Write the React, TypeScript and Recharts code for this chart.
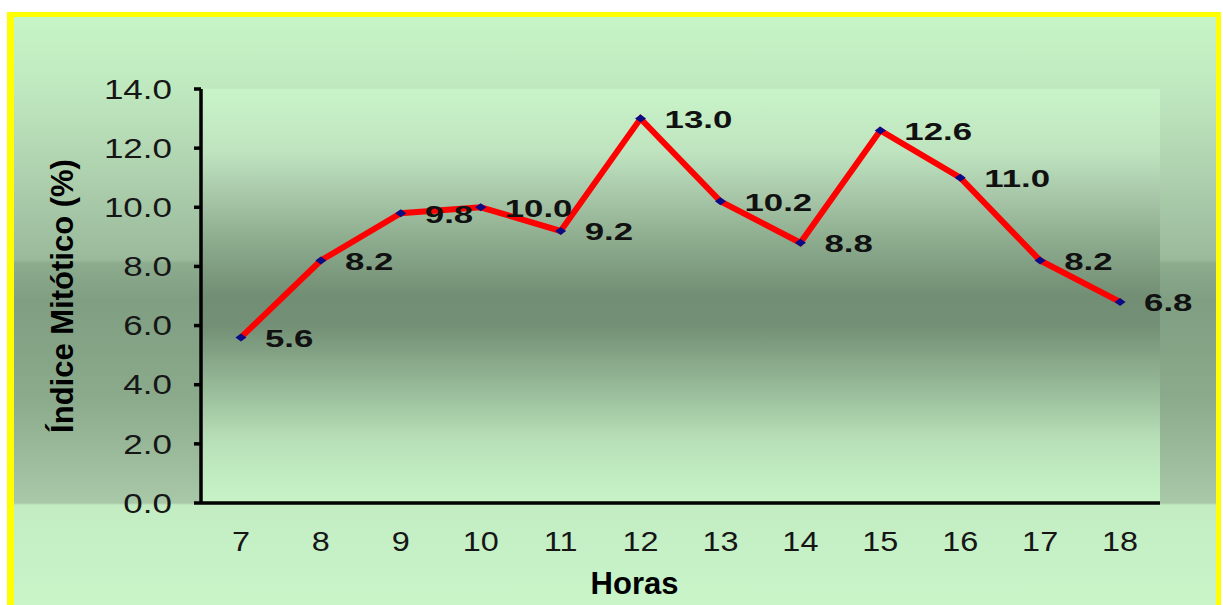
import { LineChart, Line, XAxis, YAxis, CartesianGrid, LabelList, Label } from "recharts";

const HOURS = [7, 8, 9, 10, 11, 12, 13, 14, 15, 16, 17, 18];
const MITOTIC_INDEX = [5.6, 8.2, 9.8, 10.0, 9.2, 13.0, 10.2, 8.8, 12.6, 11.0, 8.2, 6.8];
const Y_TICKS = [0, 2, 4, 6, 8, 10, 12, 14];

// tick marks sit between the hours, the labels on the hours themselves
const HOUR_EDGES = [...HOURS.map((h) => h - 0.5), HOURS[HOURS.length - 1] + 0.5];
const X_DOMAIN = [HOUR_EDGES[0], HOUR_EDGES[HOUR_EDGES.length - 1]];

const data = HOURS.map((hour, i) => ({ hour, value: MITOTIC_INDEX[i] }));

const FONT = '"Liberation Sans", Arial, Helvetica, sans-serif';
const AXIS_STROKE = { stroke: "#000", strokeWidth: 3.5 };

function YTick({ x, y, payload }: any) {
  return (
    <text
      transform={`translate(${x},${y}) scale(1.25,1)`}
      textAnchor="end"
      dominantBaseline="central"
      fontFamily={FONT}
      fontSize={28}
      fill="#161616"
    >
      {Number(payload.value).toFixed(1)}
    </text>
  );
}

function XTick({ x, y, payload }: any) {
  return (
    <text
      transform={`translate(${x},${y + 30}) scale(1.2,1)`}
      textAnchor="middle"
      dominantBaseline="central"
      fontFamily={FONT}
      fontSize={27}
      fill="#161616"
    >
      {payload.value}
    </text>
  );
}

function Diamond({ cx, cy, index }: any) {
  return (
    <polygon
      key={`dot-${index}`}
      points={`${cx - 5.5},${cy} ${cx},${cy - 4} ${cx + 5.5},${cy} ${cx},${cy + 4}`}
      fill="#0b0b86"
    />
  );
}

function ValueLabel({ x, y, value }: any) {
  return (
    <text
      transform={`translate(${x + 24},${y + 1}) scale(1.45,1)`}
      dominantBaseline="central"
      fontFamily={FONT}
      fontWeight="bold"
      fontSize={24}
      fill="#111"
    >
      {Number(value).toFixed(1)}
    </text>
  );
}

export default function App() {
  return (
    <div
      style={{
        position: "fixed",
        left: 0,
        top: 0,
        width: 1223,
        height: 605,
        background: "#fff",
        overflow: "hidden",
      }}
    >
      {/* yellow frame with the soft green backdrop */}
      <div
        style={{
          position: "absolute",
          left: 7,
          top: 12,
          width: 1214,
          height: 600,
          boxSizing: "border-box",
          borderStyle: "solid",
          borderColor: "#ffff00",
          borderWidth: "5px 5px 0 7px",
          background:
            "linear-gradient(to bottom, #c7f5c7 0px, #bfe8bf 73px, #adcfad 163px, #9aba9b 243px, #8dac8e 246px, #809e82 283px, #8bab8c 383px, #a8c8a8 486px, #c3ecc3 488px, #c9f5c9 588px)",
        }}
      />
      <div style={{ position: "absolute", left: 0, top: 0 }}>
        <LineChart
          width={1223}
          height={605}
          data={data}
          margin={{ top: 89, right: 63, left: 51, bottom: 0 }}
        >
          <defs>
            <linearGradient id="plotBg" x1="0" y1="0" x2="0" y2="1">
              <stop offset="0" stopColor="#c9f4c9" />
              <stop offset="0.15" stopColor="#bfe4bf" />
              <stop offset="0.25" stopColor="#a9c9aa" />
              <stop offset="0.37" stopColor="#8cab8d" />
              <stop offset="0.5" stopColor="#728e74" />
              <stop offset="0.57" stopColor="#738f75" />
              <stop offset="0.72" stopColor="#97ba98" />
              <stop offset="0.85" stopColor="#b8e0b8" />
              <stop offset="1" stopColor="#c8f4c8" />
            </linearGradient>
          </defs>
          <CartesianGrid horizontal={false} vertical={false} fill="url(#plotBg)" />
          <XAxis
            xAxisId="edges"
            dataKey="hour"
            type="number"
            domain={X_DOMAIN}
            ticks={HOUR_EDGES}
            tick={false}
            tickSize={7}
            height={8}
            axisLine={AXIS_STROKE}
            tickLine={AXIS_STROKE}
          />
          <XAxis
            xAxisId="labels"
            dataKey="hour"
            type="number"
            domain={X_DOMAIN}
            ticks={HOURS}
            tick={<XTick />}
            tickSize={0}
            tickMargin={0}
            height={94}
            axisLine={false}
            tickLine={false}
          >
            <Label
              content={({ viewBox }: any) => (
                <text
                  x={viewBox.x + viewBox.width / 2 - 46}
                  y={viewBox.y + 83}
                  textAnchor="middle"
                  fontFamily={FONT}
                  fontWeight="bold"
                  fontSize={31}
                  fill="#000"
                >
                  Horas
                </text>
              )}
            />
          </XAxis>
          <YAxis
            domain={[0, 14]}
            ticks={Y_TICKS}
            width={150}
            tick={<YTick />}
            tickSize={7}
            tickMargin={22}
            axisLine={AXIS_STROKE}
            tickLine={AXIS_STROKE}
          >
            <Label
              content={({ viewBox }: any) => (
                <text
                  transform={`translate(${viewBox.x + 22},${viewBox.y + viewBox.height / 2}) rotate(-90)`}
                  textAnchor="middle"
                  fontFamily={FONT}
                  fontWeight="bold"
                  fontSize={31}
                  fill="#000"
                >
                  Índice Mitótico (%)
                </text>
              )}
            />
          </YAxis>
          <Line
            xAxisId="edges"
            type="linear"
            dataKey="value"
            stroke="#ff0000"
            strokeWidth={6}
            dot={Diamond}
            activeDot={false}
            isAnimationActive={false}
          >
            <LabelList dataKey="value" content={ValueLabel} />
          </Line>
        </LineChart>
      </div>
    </div>
  );
}
